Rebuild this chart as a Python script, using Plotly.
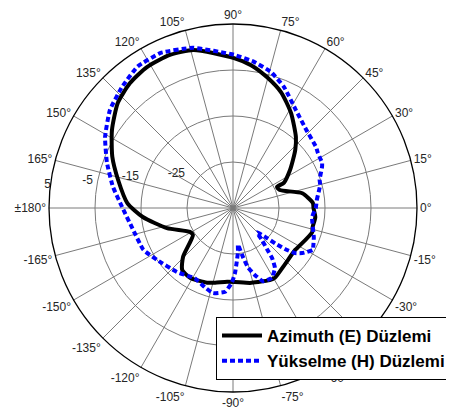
import math
import plotly.graph_objects as go

# Azimuth (E) plane: angle (deg), gain (dB)
az_theta = [0, 3.6, 12, 21, 25.5, 26.5, 33.7, 38.7, 43, 48.4, 58.6, 67.3, 75.5, 82.8, 89.6,
            104, 112.4, 121.4, 129.5, 137.6, 147.2, 157, 166.3, 177.3, 185.7, 196.9, 209, 214,
            224.4, 230.6, 238.4, 250.9, 256.5, 265.4, 271.5, 282.8, 288.7, 297, 301, 312,
            326, 330, 343, 346.6, 353.7, 360]
az_gain = [-17.5, -17.6, -19.6, -24.1, -24.4, -22.6, -20.1, -18.3, -16.5, -14.4, -10.8, -7.8, -5.6, -3.7, -2.4,
           0.4, 1.0, 0.9, 0.2, -1.1, -3.7, -6.5, -9.3, -12.0, -15.3, -20.0, -24.3, -24.5,
           -19.8, -17.6, -17.2, -17.8, -18.3, -18.9, -18.9, -18.3, -18.0, -17.4, -17.3, -18.3,
           -18.7, -18.4, -17.0, -17.2, -17.0, -17.5]

# Elevation (H) plane
el_theta = [0, 5.4, 14.8, 18, 24.7, 26.8, 33, 36.3, 46.9, 57.3, 67, 74.4, 81.8, 89.6,
            104, 115, 124, 132.5, 141.5, 151, 160.3, 170, 179.5, 190.6, 205, 214.4, 228.8,
            241.5, 250.5, 256.8, 264.6, 269, 271.8, 274, 276.5, 277.7, 281.5, 284, 288, 292.3,
            299, 305, 308, 309.5, 312, 315, 318, 320, 321.7, 324, 327, 332.3, 334, 340, 353.5, 360]
el_gain = [-17.0, -16.7, -15.4, -15.2, -13.7, -13.3, -13.0, -12.6, -11.7, -9.7, -6.5, -4.3, -2.9, -1.7,
           0.9, 2.2, 2.1, 0.7, -0.8, -3.2, -5.9, -8.5, -10.9, -12.6, -13.5, -15.0, -16.5,
           -17.6, -16.7, -16.0, -16.7, -18.7, -20.9, -23.3, -25.4, -27.0, -24.1, -21.8, -19.7, -17.8,
           -17.6, -19.1, -21.2, -23.3, -25.6, -27.6, -25.6, -23.0, -20.6, -18.3, -17.0, -15.4, -15.6, -16.3, -17.7, -17.0]

ang_vals = list(range(0, 360, 15))
ang_text = [("\u00b1180\u00b0" if a == 180 else (f"{a}\u00b0" if a < 180 else f"{a-360}\u00b0")) for a in ang_vals]
r_ticks = [-25, -15, -5, 5]
r_min, r_max = -35, 5

# the page body has an 8px default margin; figure is sized/placed to compensate
OFF = 8
W, H = 454 - OFF, 419 - 2 * OFF
cx, cy, R = 233 - OFF, 208 - OFF, 184
px_per_db = R / (r_max - r_min)

# radial tick labels placed left of each ring, slightly above the 180 deg spoke
lab_r, lab_t = [], []
for v in r_ticks:
    rho = (v - r_min) * px_per_db
    ly = 38 - 0.08 * rho
    lx = -rho - 2
    if math.hypot(lx, ly) > R - 0.5:
        lx = -math.sqrt((R - 0.5) ** 2 - ly ** 2)
    lab_r.append(r_min + math.hypot(lx, ly) / px_per_db)
    lab_t.append(math.degrees(math.atan2(ly, lx)))

fig = go.Figure()
fig.add_trace(go.Scatterpolar(theta=az_theta, r=az_gain, mode="lines", name="<b>Azimuth (E) Düzlemi</b>",
                              line=dict(color="#000000", width=4, shape="spline", smoothing=0.6)))
fig.add_trace(go.Scatterpolar(theta=el_theta, r=el_gain, mode="lines", name="<b>Yükselme (H) Düzlemi</b>",
                              line=dict(color="#0000ff", width=4, dash="5px,3px", shape="spline", smoothing=0.4)))
fig.add_trace(go.Scatterpolar(theta=lab_t, r=lab_r, mode="text", text=[str(v) for v in r_ticks],
                              textposition="middle left", showlegend=False, hoverinfo="skip",
                              textfont=dict(family="Liberation Sans, Arial, sans-serif", size=12, color="#262626"),
                              cliponaxis=False))

fig.update_layout(
    width=W, height=H,
    margin=dict(l=0, r=0, t=0, b=0),
    paper_bgcolor="white",
    font=dict(family="Liberation Sans, Arial, sans-serif", size=12, color="#262626"),
    polar=dict(
        domain=dict(x=[(cx - R) / W, (cx + R) / W], y=[1 - (cy + R) / H, 1 - (cy - R) / H]),
        bgcolor="white",
        angularaxis=dict(direction="counterclockwise", rotation=0, tickmode="array",
                         tickvals=ang_vals, ticktext=ang_text, showline=True,
                         linecolor="#000000", linewidth=1.3, gridcolor="#7a7a7a", gridwidth=0.8,
                         ticks="", tickfont=dict(size=12, color="#262626")),
        radialaxis=dict(range=[r_min, r_max], tickmode="array", tickvals=r_ticks,
                        showticklabels=False, angle=180, showline=False, ticks="",
                        gridcolor="#7a7a7a", gridwidth=0.8),
    ),
    showlegend=True,
    legend=dict(x=(451 - OFF) / W, xanchor="right", y=1 - (380 - OFF) / H, yanchor="bottom",
                bgcolor="white", bordercolor="#000000", borderwidth=1,
                font=dict(family="Liberation Sans, Arial, sans-serif", size=17, color="#000000"),
                itemwidth=40, tracegroupgap=0),
)

fig.write_html("out.html")
